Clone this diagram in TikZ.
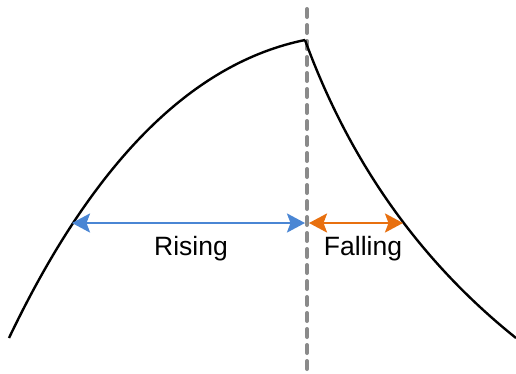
\documentclass[tikz,border=0pt]{standalone}
\usepackage{fontspec}
\setmainfont{Liberation Sans}
\usetikzlibrary{arrows.meta}
\definecolor{riseBlue}{HTML}{4A86D4}
\definecolor{fallOrange}{HTML}{E8700F}
\definecolor{splitGray}{HTML}{8A8A8A}

\begin{document}
\begin{tikzpicture}[
    x=1pt, y=-1pt,
    curve/.style={black, line width=2.4pt},
    span/.style={line width=2.6pt, {Stealth[length=18pt, width=19pt, inset=3.5pt]}-{Stealth[length=18pt, width=19pt, inset=3.5pt]}},
    lbl/.style={font=\fontsize{26.5}{30}\selectfont, text=black},
]
\useasboundingbox (0,0) rectangle (516,373);

% Key points of the curve
\coordinate (start) at (9,338);
\coordinate (peak) at (305,40);
\coordinate (stop) at (516,338);
\coordinate (riseL) at (72,223);
\coordinate (fallR) at (403,223);
\coordinate (midL) at (305,223);
\coordinate (midR) at (309,223);

% Split line (dashed gray)
\coordinate (splitTop) at (307,9);
\coordinate (splitBot) at (307,373);
\draw[splitGray, line width=4pt, line cap=round, dash pattern=on 8pt off 8pt]
    (splitTop) -- (splitBot);

% Rising and falling branches
\draw[curve] (start) .. controls (93,162) and (192,63) .. (peak);
\draw[curve] (peak) .. controls (350,163) and (421,262) .. (stop);

% Span arrows
\draw[span, riseBlue] (riseL) -- (midL);
\draw[span, fallOrange] (midR) -- (fallR);

% Labels
\node[lbl] (rising) at (191,248.5) {Rising};
\node[lbl] (falling) at (363,248.5) {Falling};

\end{tikzpicture}
\end{document}
